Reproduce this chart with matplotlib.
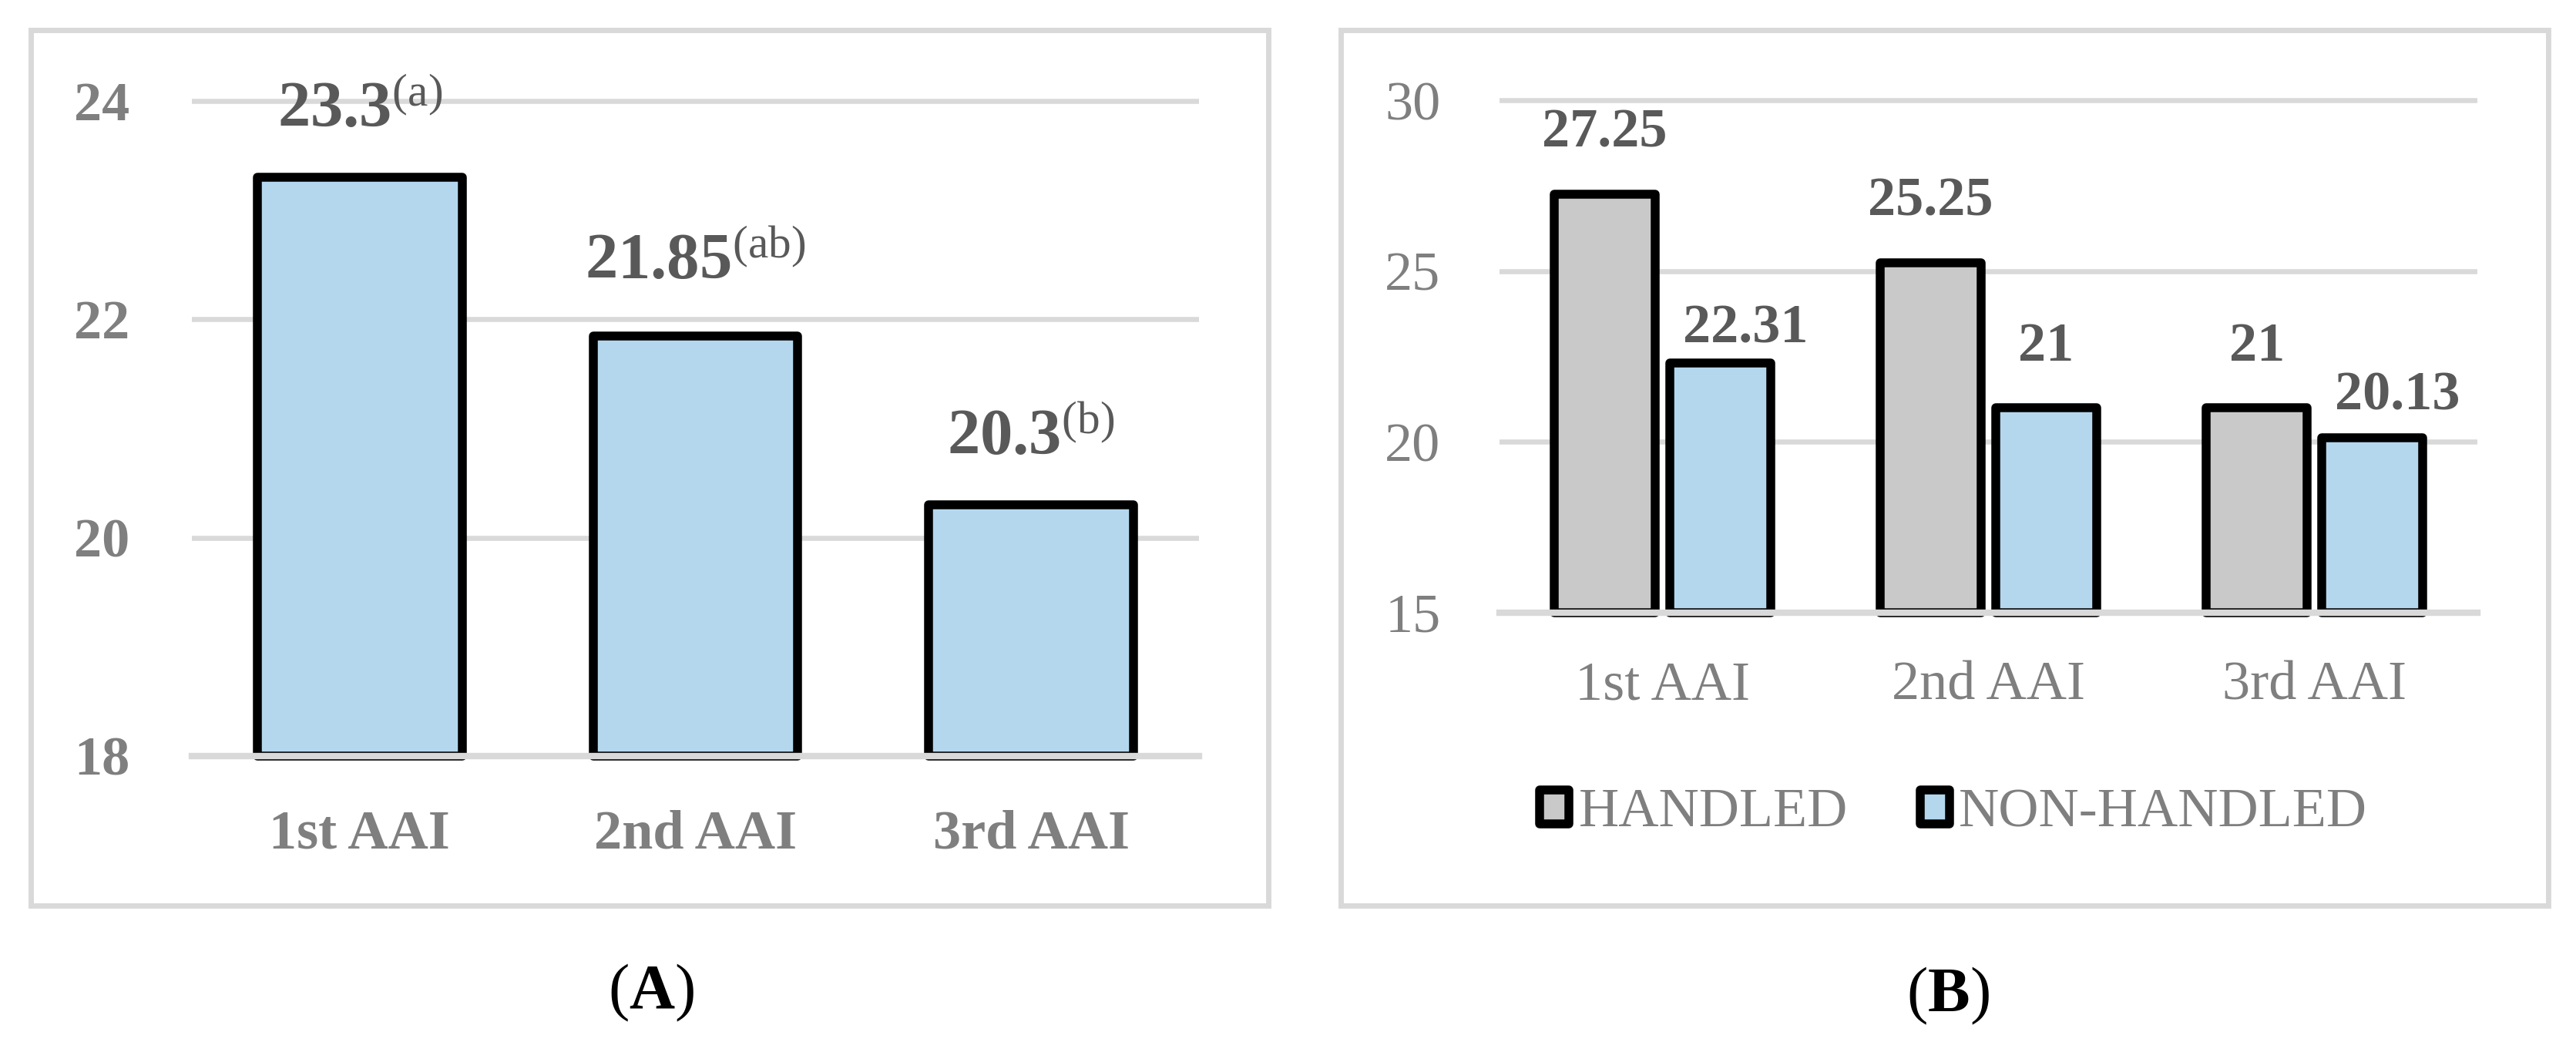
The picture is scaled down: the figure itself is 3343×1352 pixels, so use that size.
import numpy as np
import matplotlib
matplotlib.use("Agg")
import matplotlib.pyplot as plt
from matplotlib.patches import Rectangle

# data
categories = ["1st AAI", "2nd AAI", "3rd AAI"]
overall = [23.3, 21.85, 20.3]
overall_letters = ["a", "ab", "b"]
handled = [27.25, 25.25, 21]
non_handled = [22.31, 21, 20.13]
series_names = ["HANDLED", "NON-HANDLED"]

plt.rcParams["font.family"] = ["Liberation Serif", "DejaVu Serif"]
plt.rcParams["mathtext.fontset"] = "custom"
plt.rcParams["mathtext.rm"] = "Liberation Serif"
plt.rcParams["mathtext.it"] = "Liberation Serif:italic"
plt.rcParams["mathtext.bf"] = "Liberation Serif:bold"

BLUE = "#b4d7ee"
GREY = "#c9c9c9"
GRID = "#d9d9d9"
LABEL = "#595959"
TICK = "#7f7f7f"
EDGE_LW = 8.3

W, H = 3343, 1352
fig = plt.figure(figsize=(W / 100, H / 100), dpi=100)


def add_ax(x0, x1, ytop, ybot):
    return fig.add_axes([x0 / W, 1 - ybot / H, (x1 - x0) / W, (ybot - ytop) / H])


def style(ax, ymin, ymax, ticks, ypad, xpad, weight, size):
    for s in ax.spines.values():
        s.set_visible(False)
    ax.set_ylim(ymin, ymax)
    ax.set_xlim(-0.5, 2.5)
    ax.set_yticks(ticks)
    ax.set_xticks(range(len(categories)))
    ax.set_xticklabels(categories)
    ax.tick_params(length=0, colors=TICK, labelsize=size)
    ax.tick_params(axis="y", pad=ypad)
    ax.tick_params(axis="x", pad=xpad)
    for t in ax.get_xticklabels() + ax.get_yticklabels():
        t.set_fontweight(weight)
    ax.yaxis.grid(True, color=GRID, lw=4.7)
    ax.set_axisbelow(True)
    ax.axhline(ymin, color=GRID, lw=6, zorder=5, clip_on=False)


# ---- panel A
axA = add_ax(249, 1556, 88.5, 981)
x = np.arange(len(categories))
yminA = 18
axA.bar(x, np.array(overall) - yminA, bottom=yminA, width=0.61, color=BLUE,
        edgecolor="black", lw=EDGE_LW, joinstyle="round", clip_on=False, zorder=3)
style(axA, yminA, 24.3, [18, 20, 22, 24], 58, 50, "bold", 52)
extraA = [0, 6, 0]
for i, (v, l) in enumerate(zip(overall, overall_letters)):
    axA.annotate(r"$\mathbf{%g}^{\mathrm{(%s)}}$" % (v, l), xy=(i, v),
                 xytext=(0, 47 + extraA[i]), textcoords="offset points",
                 ha="center", va="baseline", fontsize=61, color=LABEL, zorder=6)

# ---- panel B
axB = add_ax(1946, 3215, 85.7, 795)
yminB = 15
w = 0.31
off = 0.177
barsH = axB.bar(x - off, np.array(handled) - yminB, bottom=yminB, width=w, color=GREY,
                edgecolor="black", lw=EDGE_LW, joinstyle="round", clip_on=False,
                zorder=3, label=series_names[0])
barsN = axB.bar(x + off, np.array(non_handled) - yminB, bottom=yminB, width=w, color=BLUE,
                edgecolor="black", lw=EDGE_LW, joinstyle="round", clip_on=False,
                zorder=3, label=series_names[1])
style(axB, yminB, 31, [15, 20, 25, 30], 55, 45, "normal", 52)

for i, v in enumerate(handled):
    axB.annotate("%g" % v, xy=(i - off, v), xytext=(0, 44), textcoords="offset points",
                 ha="center", va="baseline", fontsize=52, fontweight="bold", color=LABEL)
nh_dx = [24, 0, 24]
nh_dy = [19, 44, 26]
for i, v in enumerate(non_handled):
    axB.annotate("%g" % v, xy=(i + off, v), xytext=(nh_dx[i], nh_dy[i]),
                 textcoords="offset points", ha="center", va="baseline",
                 fontsize=52, fontweight="bold", color=LABEL)

leg = axB.legend(loc="center", bbox_to_anchor=(2535 / W, 1 - 1055 / H),
                 bbox_transform=fig.transFigure, ncol=2, frameon=False,
                 fontsize=52, handlelength=0.53, handleheight=0.56,
                 handletextpad=0.17, columnspacing=1.3, labelcolor=TICK)
for p in leg.get_patches():
    p.set_joinstyle("round")

# panel frames
for x0, x1 in [(40, 1646), (1740, 3307)]:
    fig.patches.append(Rectangle((x0 / W, 1 - 1175 / H), (x1 - x0) / W, (1175 - 39) / H,
                                 transform=fig.transFigure, fill=False,
                                 ec=GRID, lw=5))

fig.text(845 / W, 1 - 1288 / H, r"($\mathbf{A}$)", ha="center", va="center",
         fontsize=59, color="black")
fig.text(2528 / W, 1 - 1292 / H, r"($\mathbf{B}$)", ha="center", va="center",
         fontsize=59, color="black")

fig.savefig("out.png", dpi=100)
